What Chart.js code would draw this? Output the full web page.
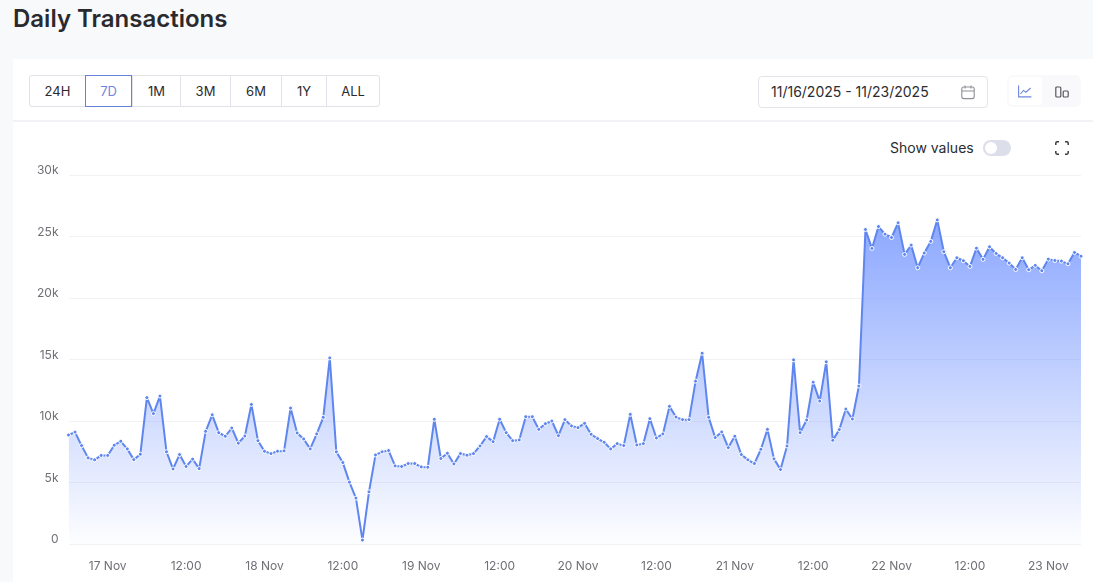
<!DOCTYPE html>
<html><head><meta charset="utf-8">
<script src="https://cdn.jsdelivr.net/npm/chart.js@4/dist/chart.umd.min.js"></script>
<style>
*{box-sizing:border-box}
html,body{margin:0;padding:0;width:1093px;height:582px;overflow:hidden;background:#f8f9fb;font-family:Inter,sans-serif;color:#2b2b30}
.abs{position:absolute}
h1{position:absolute;left:13px;top:4px;margin:0;font-size:24px;line-height:30px;font-weight:600;color:#2a2a2e}
#card{left:13px;top:59px;width:1080px;height:523px;background:#fff}
#rule{left:13px;top:120px;width:1080px;height:2px;background:#f1f2f5}
.btn{position:absolute;top:75px;height:32px;border:1px solid #e2e3e8;margin-right:-1px;background:#fff;font-size:13px;line-height:30px;text-align:center;color:#2b2b30}
.btn.on{border-color:#6482dc;color:#6f86e0;z-index:2}
#date{left:758px;top:76px;width:230px;height:32px;border:1px solid #e4e5ea;border-radius:4px;background:#fff;font-size:14px;line-height:30px;padding-left:12px;color:#2b2b30}
#seg{left:1007px;top:75px;width:74px;height:32px;background:#f9f9fb;border-radius:6px}
#segon{left:1009px;top:77px;width:33px;height:28px;background:#fff;border-radius:3px}
#sv{left:890px;top:139px;font-size:14px;line-height:18px;color:#2b2b30}
#tg{left:983px;top:140px;width:28px;height:16px;border-radius:8px;background:#dcdee9}
#knob{left:985px;top:142px;width:12px;height:12px;border-radius:6px;background:#fff}
#wrap{left:13px;top:122px;width:1080px;height:460px}
svg{position:absolute;overflow:visible}
</style></head><body>
<h1>Daily Transactions</h1>
<div id="card" class="abs"></div>
<div id="rule" class="abs"></div>
<div class="btn" style="left:29px;width:57px;border-radius:3px 0 0 3px">24H</div>
<div class="btn on" style="left:85px;width:47px">7D</div>
<div class="btn" style="left:132px;width:49px">1M</div>
<div class="btn" style="left:180px;width:51px">3M</div>
<div class="btn" style="left:230px;width:52px">6M</div>
<div class="btn" style="left:281px;width:46px">1Y</div>
<div class="btn" style="left:326px;width:54px;border-radius:0 3px 3px 0">ALL</div>
<div id="date" class="abs">11/16/2025 - 11/23/2025</div>
<svg style="left:961px;top:85px" width="14" height="15" viewBox="0 0 14 15" fill="none" stroke="#8f9096" stroke-width="1.1"><rect x="0.8" y="2" width="12.4" height="11.6" rx="2"/><path d="M0.8 6h12.4M4 0.5v3M10 0.5v3"/></svg>
<div id="seg" class="abs"></div><div id="segon" class="abs"></div>
<svg style="left:1018px;top:85px" width="14" height="13" viewBox="0 0 14 13" fill="none" stroke="#6f86e0" stroke-width="1.1"><path d="M0.6 0.5v11.4h12.8"/><path d="M2.5 9l3-3.6 2.4 1.8L12.6 3"/></svg>
<svg style="left:1055px;top:86px" width="14" height="12" viewBox="0 0 14 12" fill="none" stroke="#55565c" stroke-width="1.2"><rect x="0.8" y="1" width="5" height="10" rx="1"/><rect x="8.2" y="5" width="5" height="6" rx="1"/></svg>
<div id="sv" class="abs">Show values</div>
<div id="tg" class="abs"></div><div id="knob" class="abs"></div>
<svg style="left:1055px;top:141px" width="14" height="14" viewBox="0 0 14 14" fill="none" stroke="#3a3a40" stroke-width="1.5"><path d="M0.8 4V2.2Q0.8 0.8 2.2 0.8H4M10 0.8h1.8Q13.2 0.8 13.2 2.2V4M13.2 10v1.8Q13.2 13.2 11.8 13.2H10M4 13.2H2.2Q0.8 13.2 0.8 11.8V10"/></svg>
<div id="wrap" class="abs"><canvas id="c" width="1080" height="460"></canvas></div>
<script>
const categories = [
"16 Nov 18:00","16 Nov 19:00","16 Nov 20:00","16 Nov 21:00","16 Nov 22:00","16 Nov 23:00",
"17 Nov 00:00","17 Nov 01:00","17 Nov 02:00","17 Nov 03:00","17 Nov 04:00","17 Nov 05:00","17 Nov 06:00","17 Nov 07:00","17 Nov 08:00","17 Nov 09:00","17 Nov 10:00","17 Nov 11:00","17 Nov 12:00","17 Nov 13:00","17 Nov 14:00","17 Nov 15:00","17 Nov 16:00","17 Nov 17:00","17 Nov 18:00","17 Nov 19:00","17 Nov 20:00","17 Nov 21:00","17 Nov 22:00","17 Nov 23:00",
"18 Nov 00:00","18 Nov 01:00","18 Nov 02:00","18 Nov 03:00","18 Nov 04:00","18 Nov 05:00","18 Nov 06:00","18 Nov 07:00","18 Nov 08:00","18 Nov 09:00","18 Nov 10:00","18 Nov 11:00","18 Nov 12:00","18 Nov 13:00","18 Nov 14:00","18 Nov 15:00","18 Nov 16:00","18 Nov 17:00","18 Nov 18:00","18 Nov 19:00","18 Nov 20:00","18 Nov 21:00","18 Nov 22:00","18 Nov 23:00",
"19 Nov 00:00","19 Nov 01:00","19 Nov 02:00","19 Nov 03:00","19 Nov 04:00","19 Nov 05:00","19 Nov 06:00","19 Nov 07:00","19 Nov 08:00","19 Nov 09:00","19 Nov 10:00","19 Nov 11:00","19 Nov 12:00","19 Nov 13:00","19 Nov 14:00","19 Nov 15:00","19 Nov 16:00","19 Nov 17:00","19 Nov 18:00","19 Nov 19:00","19 Nov 20:00","19 Nov 21:00","19 Nov 22:00","19 Nov 23:00",
"20 Nov 00:00","20 Nov 01:00","20 Nov 02:00","20 Nov 03:00","20 Nov 04:00","20 Nov 05:00","20 Nov 06:00","20 Nov 07:00","20 Nov 08:00","20 Nov 09:00","20 Nov 10:00","20 Nov 11:00","20 Nov 12:00","20 Nov 13:00","20 Nov 14:00","20 Nov 15:00","20 Nov 16:00","20 Nov 17:00","20 Nov 18:00","20 Nov 19:00","20 Nov 20:00","20 Nov 21:00","20 Nov 22:00","20 Nov 23:00",
"21 Nov 00:00","21 Nov 01:00","21 Nov 02:00","21 Nov 03:00","21 Nov 04:00","21 Nov 05:00","21 Nov 06:00","21 Nov 07:00","21 Nov 08:00","21 Nov 09:00","21 Nov 10:00","21 Nov 11:00","21 Nov 12:00","21 Nov 13:00","21 Nov 14:00","21 Nov 15:00","21 Nov 16:00","21 Nov 17:00","21 Nov 18:00","21 Nov 19:00","21 Nov 20:00","21 Nov 21:00","21 Nov 22:00","21 Nov 23:00",
"22 Nov 00:00","22 Nov 01:00","22 Nov 02:00","22 Nov 03:00","22 Nov 04:00","22 Nov 05:00","22 Nov 06:00","22 Nov 07:00","22 Nov 08:00","22 Nov 09:00","22 Nov 10:00","22 Nov 11:00","22 Nov 12:00","22 Nov 13:00","22 Nov 14:00","22 Nov 15:00","22 Nov 16:00","22 Nov 17:00","22 Nov 18:00","22 Nov 19:00","22 Nov 20:00","22 Nov 21:00","22 Nov 22:00","22 Nov 23:00",
"23 Nov 00:00","23 Nov 01:00","23 Nov 02:00","23 Nov 03:00","23 Nov 04:00","23 Nov 05:00"];
const transactions = [
8860,9100,8000,7000,6840,7200,7200,8030,8350,7730,6860,7300,11900,10600,12030,7500,6100,7270,6300,6900,6130,9160,10500,9050,8760,9430,8200,8780,11350,8400,
7540,7350,7540,7570,11050,9030,8540,7730,8950,10300,15130,7490,6620,5030,3730,320,4240,7240,7490,7600,6350,6300,6540,6540,
6270,6240,10140,6950,7380,6510,7350,7220,7350,7970,8730,8320,10140,9050,8400,8460,10350,10350,9320,9780,10000,8810,10110,9600,
9460,9810,8920,8570,8270,7730,8160,8000,10540,8050,8160,10190,8620,8950,11190,10320,10110,10110,13240,15510,10300,8650,9110,7840,
8760,7270,6840,6540,7700,9320,6920,6050,7970,14970,9050,10080,13160,11620,14810,8430,9300,10970,10160,12840,25570,24030,
25810,25190,24920,26110,23540,24300,22460,23650,24600,26350,23760,22460,23270,23030,22570,24050,23140,24160,23620,23270,22840,22320,23270,22300,
22650,22220,23160,23050,23000,22780,23700,23400];
const yTickValues = [0,5000,10000,15000,20000,25000,30000];
const yTickLabels = ["0","5k","10k","15k","20k","25k","30k"];

function areaFill(ctx){
  const ch = ctx.chart, a = ch.chartArea;
  if(!a) return 'rgba(110,145,255,.5)';
  const g = ch.ctx.createLinearGradient(0,a.top,0,a.bottom);
  g.addColorStop(0,'rgba(110,145,255,0.9)');
  g.addColorStop(1,'rgba(110,145,255,0.01)');
  return g;
}
new Chart(document.getElementById('c'),{
  type:'line',
  data:{labels:categories,datasets:[{
    label:'Daily Transactions',data:transactions,
    borderColor:'#5f86ef',borderWidth:2,borderJoinStyle:'round',tension:0,fill:'origin',backgroundColor:areaFill,
    pointRadius:2,pointBorderWidth:1,pointBackgroundColor:'#5f86ef',pointBorderColor:'#ffffff'
  }]},
  options:{
    responsive:false,animation:false,devicePixelRatio:1,
    layout:{padding:{top:53,right:12,left:0,bottom:0}},
    plugins:{legend:{display:false},title:{display:false},tooltip:{enabled:false}},
    scales:{
      x:{type:'category',offset:false,
        grid:{display:false},border:{display:false},
        afterFit(s){s.height=38;},
        ticks:{autoSkip:false,maxRotation:0,minRotation:0,padding:7,color:'#6f6f76',font:{family:'Inter',size:12},
          callback(v){const l=this.getLabelForValue(v);
            if(l.endsWith(' 00:00')) return l.slice(0,6);
            if(l.endsWith(' 12:00')) return '12:00';
            return null;}}
      },
      y:{min:0,max:30000,
        afterFit(s){s.width=55.5;},
        afterBuildTicks(s){s.ticks=yTickValues.map(v=>({value:v}));},
        grid:{color:'#f2f2f5',lineWidth:1,drawTicks:false},border:{display:false},
        ticks:{padding:10,labelOffset:-4.5,color:'#6f6f76',font:{family:'Inter',size:12},
          callback(v){return yTickLabels[yTickValues.indexOf(v)];}}
      }
    }
  }
});
</script>
</body></html>
